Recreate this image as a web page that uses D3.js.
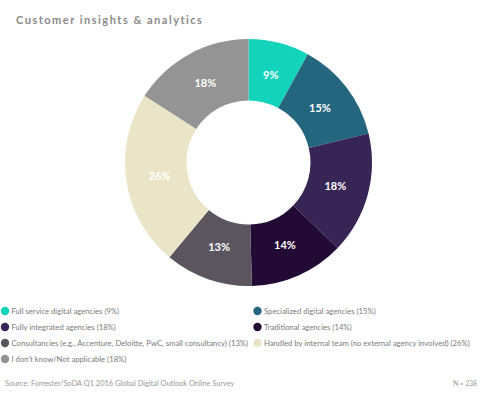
<!DOCTYPE html>
<html>
<head>
<meta charset="utf-8">
<script src="https://cdn.jsdelivr.net/npm/d3@7"></script>
<style>
  body { margin: 0; background: #fff; }
  svg { display: block; font-family: Lato, "Open Sans", sans-serif; }
</style>
</head>
<body>
<svg id="chart" width="498" height="398"></svg>
<script>
// slices, clockwise from 12 o'clock
var categories = [
    'Full service digital agencies',
    'Specialized digital agencies',
    'Fully integrated agencies',
    'Traditional agencies',
    'Consultancies (e.g., Accenture, Deloitte, PwC, small consultancy)',
    'Handled by internal team (no external agency involved)',
    'I don\u2019t know/Not applicable'
];
var values = [9, 15, 18, 14, 13, 26, 18];
var colors = ['#14d3bb', '#25667f', '#372555', '#230a35', '#5b5560', '#ebe5c8', '#949494'];

// legend goes in two columns, row by row
var legendOrder = [0, 1, 2, 3, 4, 5, 6];

var svg = d3.select('#chart');

svg.append('text')
    .attr('x', 16)
    .attr('y', 24)
    .attr('fill', '#8a8a8a')
    .attr('font-size', 11)
    .attr('font-weight', 'bold')
    .attr('letter-spacing', 1.5)
    .text('Customer insights & analytics');

var cx = 248.5, cy = 162.5;
var outerR = 123.5, innerR = 62;

var pie = d3.pie().sort(null).value(d => d);
var arcs = pie(values);
var arc = d3.arc().innerRadius(innerR).outerRadius(outerR);
var labelArc = d3.arc().innerRadius(90).outerRadius(90);

var g = svg.append('g').attr('transform', 'translate(' + cx + ',' + cy + ')');

g.selectAll('path')
    .data(arcs)
    .enter().append('path')
    .attr('d', arc)
    .attr('fill', (d, i) => colors[i]);

g.selectAll('text.lbl')
    .data(arcs)
    .enter().append('text')
    .attr('class', 'lbl')
    .attr('transform', d => 'translate(' + labelArc.centroid(d) + ')')
    .attr('text-anchor', 'middle')
    .attr('dy', '0.35em')
    .attr('fill', '#fff')
    .attr('font-size', 11)
    .attr('font-weight', 'bold')
    .text(d => d.data + '%');

// legend
var legend = svg.append('g');
var items = legend.selectAll('g')
    .data(legendOrder)
    .enter().append('g')
    .attr('transform', (d, i) => 'translate(' + (i % 2 ? 257.5 : 5) + ',' + (311 + Math.floor(i / 2) * 16) + ')');

items.append('circle')
    .attr('r', 4.2)
    .attr('fill', d => colors[d]);

items.append('text')
    .attr('x', 6.5)
    .attr('dy', '0.35em')
    .attr('fill', '#7a7a7a')
    .attr('font-size', 7.7)
    .text(d => categories[d] + ' (' + values[d] + '%)');

svg.append('text')
    .attr('x', 5)
    .attr('y', 386)
    .attr('fill', '#999')
    .attr('font-size', 7.4)
    .text('Source: Forrester/SoDA Q1 2016 Global Digital Outlook Online Survey');

svg.append('text')
    .attr('x', 465)
    .attr('y', 386)
    .attr('text-anchor', 'middle')
    .attr('fill', '#999')
    .attr('font-size', 6.6)
    .text('N = 238');
</script>
</body>
</html>
